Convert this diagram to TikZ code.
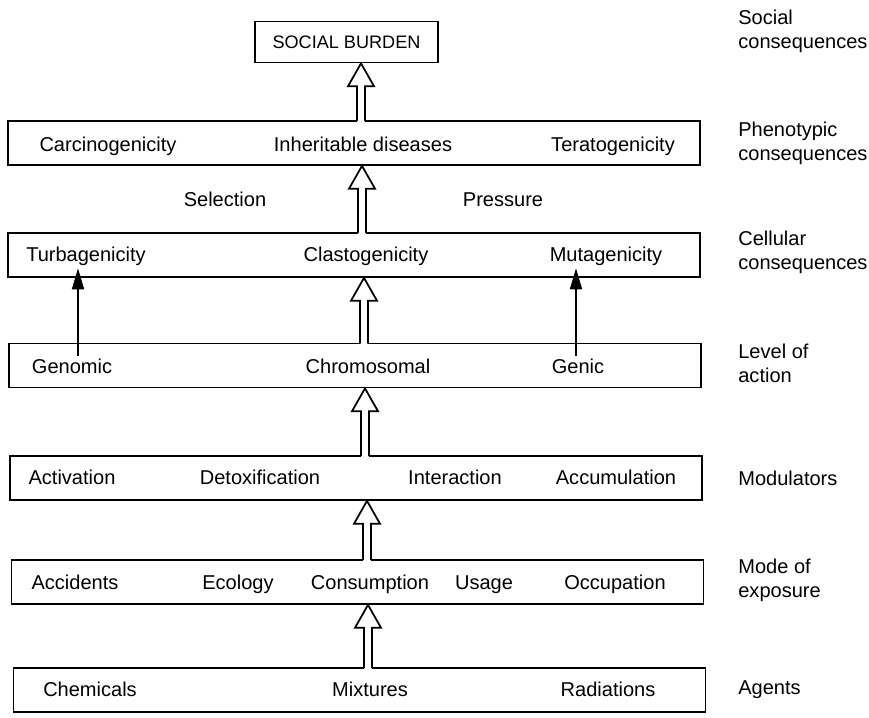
\documentclass[tikz,border=0pt]{standalone}
\usepackage{fontspec}
\setmainfont{Liberation Sans}
\usetikzlibrary{arrows.meta, calc}

\tikzset{
  layer/.style={draw, line width=1pt, minimum width=13.84cm, minimum height=0.88cm, inner sep=0pt},
  item/.style={inner sep=1pt, text height=1.7ex, text depth=0.5ex},
  side/.style={anchor=west, align=left, inner sep=0pt},
  pointer/.style={line width=1pt, -{Triangle[length=0.42cm, width=0.24cm]}}
}

% hollow block arrow: lower box, upper box, x position
\newcommand{\fatarrow}[3]{%
  \fill[white] let \p1=(#3,0 |- #1.north) in (\x1-2.0pt,\y1-1pt) rectangle (\x1+2.0pt,\y1+1pt);
  \draw[line width=1pt, line join=miter] let \p1=(#3,0 |- #1.north), \p2=(#3,0 |- #2.south) in
    (\x1-2.3pt,\y1-0.5pt) -- (\x1-2.3pt,\y2-13pt) -- (\x1-7.4pt,\y2-13pt) -- (\x2,\y2)
    -- (\x1+7.4pt,\y2-13pt) -- (\x1+2.3pt,\y2-13pt) -- (\x1+2.3pt,\y1-0.5pt);
}

\begin{document}
\begin{tikzpicture}[x=0.02cm, y=-0.02cm, font=\fontsize{11.4}{13.6}\selectfont]
  \useasboundingbox (0,0) rectangle (869,717);

  % boxes
  \node[draw, line width=1pt, minimum width=3.66cm, minimum height=0.82cm,
        font=\fontsize{10.3}{12}\selectfont] (burden) at (346.5,42) {SOCIAL BURDEN};
  \node[layer] (pheno) at (354,143) {};
  \node[layer] (cell) at (354,255) {};
  \node[layer] (level) at (355,365.5) {};
  \node[layer] (modul) at (356,478) {};
  \node[layer] (mode) at (357.5,582) {};
  \node[layer] (agent) at (359.5,690) {};

  % box contents
  \node[item] (carc) at (108,146) {Carcinogenicity};
  \node[item] (inher) at (363,146) {Inheritable diseases};
  \node[item] (terat) at (613,146) {Teratogenicity};

  \node[item] (sel) at (225,201) {Selection};
  \node[item] (press) at (503,201) {Pressure};

  \node[item] (turb) at (86,256) {Turbagenicity};
  \node[item] (clast) at (366,256) {Clastogenicity};
  \node[item] (mutag) at (606,256) {Mutagenicity};

  \node[item] (genom) at (72,368) {Genomic};
  \node[item] (chrom) at (368,368) {Chromosomal};
  \node[item] (genic) at (578,368) {Genic};

  \node[item] (activ) at (72,479) {Activation};
  \node[item] (detox) at (260,479) {Detoxification};
  \node[item] (inter) at (455,479) {Interaction};
  \node[item] (accum) at (616,479) {Accumulation};

  \node[item] (accid) at (75,584) {Accidents};
  \node[item] (ecol) at (238,584) {Ecology};
  \node[item] (consum) at (370,584) {Consumption};
  \node[item] (usage) at (484,584) {Usage};
  \node[item] (occup) at (615,584) {Occupation};

  \node[item] (chem) at (90,691) {Chemicals};
  \node[item] (mixt) at (370,691) {Mixtures};
  \node[item] (radi) at (608,691) {Radiations};

  % right-hand labels
  \node[side] (l1) at (738,31) {Social\\consequences};
  \node[side] (l2) at (738,143) {Phenotypic\\consequences};
  \node[side] (l3) at (738,252) {Cellular\\consequences};
  \node[side] (l4) at (738,363) {Level of\\action};
  \node[side] (l5) at (738,478) {Modulators};
  \node[side] (l6) at (738,580) {Mode of\\exposure};
  \node[side] (l7) at (738,690) {Agents};

  % block arrows
  \fatarrow{pheno}{burden}{361}
  \fatarrow{cell}{pheno}{362}
  \fatarrow{level}{cell}{364}
  \fatarrow{modul}{level}{365}
  \fatarrow{mode}{modul}{367}
  \fatarrow{agent}{mode}{368}

  % thin arrows
  \draw[pointer] (78,0 |- genom.north) -- (78,0 |- turb.south);
  \draw[pointer] (576,0 |- genic.north) -- (576,0 |- mutag.south);
\end{tikzpicture}
\end{document}
